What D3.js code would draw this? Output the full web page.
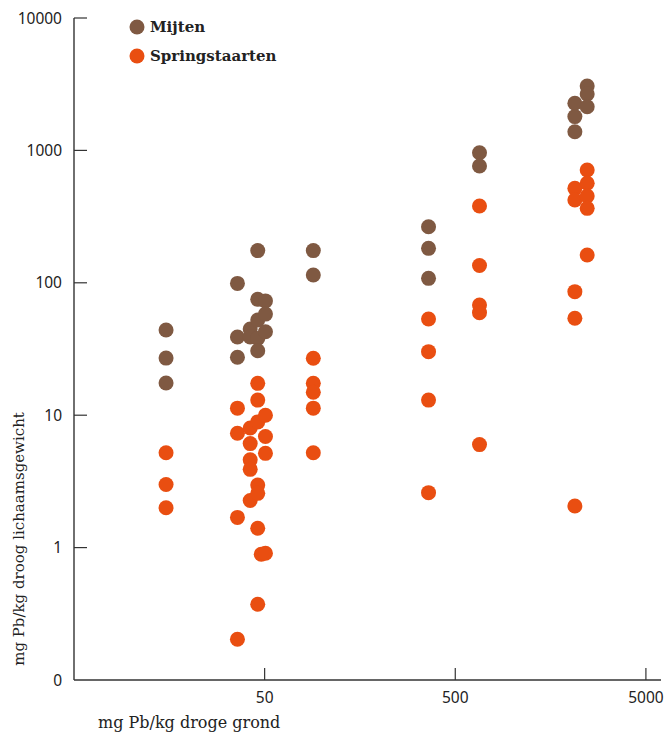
<!DOCTYPE html>
<html>
<head>
<meta charset="utf-8">
<script src="https://cdn.jsdelivr.net/npm/d3@7"></script>
<style>
  body { margin: 0; background: #fff; }
  svg { display: block; }
</style>
</head>
<body>
<div id="chart"></div>
<script>
// Mijten: mg Pb/kg droge grond vs mg Pb/kg droog lichaamsgewicht
var mijtenGrond = [15.2, 15.2, 15.2, 36, 36, 36, 42, 42, 46, 46, 46, 46, 46,
                   50.5, 50.5, 50.5, 90, 90, 362, 362, 362, 670, 670,
                   2120, 2120, 2120, 2460, 2460, 2460];
var mijtenLichaam = [44, 27, 17.5, 99, 39, 27.4, 44.8, 39, 175, 75, 52.4, 38, 30.7,
                     73, 58, 42.7, 175, 114.5, 265, 182, 108, 961, 762,
                     2270, 1800, 1384, 3063, 2667, 2138];

// Springstaarten
var springGrond = [15.2, 15.2, 15.2, 36, 36, 36, 36, 42, 42, 42, 42, 42,
                   46, 46, 46, 46, 46, 46, 46, 48, 50.5, 50.5, 50.5, 50.5,
                   90, 90, 90, 90, 90, 362, 362, 362, 362,
                   670, 670, 670, 670, 670, 2120, 2120, 2120, 2120, 2120,
                   2460, 2460, 2460, 2460, 2460];
var springLichaam = [5.2, 3.0, 2.0, 11.3, 7.3, 1.69, 0.203, 8.0, 6.1, 4.6, 3.9, 2.27,
                     17.4, 13.0, 8.9, 2.97, 2.57, 1.40, 0.373, 0.89, 10.0, 6.9, 5.15, 0.906,
                     26.9, 17.4, 14.9, 11.3, 5.2, 53.3, 30.2, 13.0, 2.6,
                     380, 135, 68, 59.5, 6.0, 517, 422, 85.7, 54, 2.06,
                     711, 565, 453, 365, 162];

var xTicks = [50, 500, 5000];
var yTicks = [0.1, 1, 10, 100, 1000, 10000];
var yTickLabels = ["0", "1", "10", "100", "1000", "10000"];

var seriesNames = ["Mijten", "Springstaarten"];
var colours = ["#7f5942", "#e94e11"];

var width = 664, height = 735;
var plotLeft = 74, plotRight = 661, plotTop = 18, plotBottom = 680;
var rDot = 7.5;

var svg = d3.select("#chart").append("svg")
    .attr("width", width)
    .attr("height", height);

var x = d3.scaleLog().domain([5, 6000]).range([plotLeft, plotRight]);
var y = d3.scaleLog().domain([0.1, 10000]).range([plotBottom, plotTop]);

//Axes
var axisColour = "#333";

svg.append("line")
    .attr("x1", plotLeft).attr("x2", plotLeft)
    .attr("y1", plotTop).attr("y2", plotBottom)
    .attr("stroke", axisColour).attr("stroke-width", 1.4);

svg.append("line")
    .attr("x1", plotLeft).attr("x2", plotRight)
    .attr("y1", plotBottom).attr("y2", plotBottom)
    .attr("stroke", axisColour).attr("stroke-width", 1.4);

//y ticks point into the plot
svg.selectAll(".ytick").data(yTicks.slice(1)).enter().append("line")
    .attr("x1", plotLeft).attr("x2", plotLeft + 13)
    .attr("y1", function(d) { return y(d); })
    .attr("y2", function(d) { return y(d); })
    .attr("stroke", axisColour).attr("stroke-width", 1.2);

svg.selectAll(".ylab").data(yTicks).enter().append("text")
    .attr("x", plotLeft - 12)
    .attr("y", function(d) { return y(d) + 5.5; })
    .attr("text-anchor", "end")
    .attr("font-family", "Noto Sans, sans-serif")
    .attr("font-size", 15.5)
    .attr("fill", "#222")
    .text(function(d, i) { return yTickLabels[i]; });

//x ticks point up
svg.selectAll(".xtick").data(xTicks).enter().append("line")
    .attr("x1", function(d) { return x(d); })
    .attr("x2", function(d) { return x(d); })
    .attr("y1", plotBottom).attr("y2", plotBottom - 12)
    .attr("stroke", axisColour).attr("stroke-width", 1.2);

svg.selectAll(".xlab").data(xTicks).enter().append("text")
    .attr("x", function(d) { return x(d); })
    .attr("y", plotBottom + 23)
    .attr("text-anchor", "middle")
    .attr("font-family", "Noto Sans, sans-serif")
    .attr("font-size", 15.5)
    .attr("fill", "#222")
    .text(function(d) { return d; });

//Axis titles
svg.append("text")
    .attr("x", 98).attr("y", 728)
    .attr("font-family", "DejaVu Serif, serif")
    .attr("font-size", 16)
    .attr("fill", "#222")
    .text("mg Pb/kg droge grond");

svg.append("text")
    .attr("transform", "translate(24,539) rotate(-90)")
    .attr("text-anchor", "middle")
    .attr("font-family", "DejaVu Serif, serif")
    .attr("font-size", 15)
    .attr("fill", "#222")
    .text("mg Pb/kg droog lichaamsgewicht");

//Points
var mijten = mijtenGrond.map(function(g, i) { return [g, mijtenLichaam[i]]; });
var spring = springGrond.map(function(g, i) { return [g, springLichaam[i]]; });

[mijten, spring].forEach(function(pts, s) {
    svg.append("g").selectAll("circle").data(pts).enter().append("circle")
        .attr("cx", function(d) { return x(d[0]); })
        .attr("cy", function(d) { return y(d[1]); })
        .attr("r", rDot)
        .attr("fill", colours[s]);
});

//Legend
var legend = svg.append("g");
seriesNames.forEach(function(name, i) {
    legend.append("circle")
        .attr("cx", 137).attr("cy", 27 + i * 29)
        .attr("r", rDot)
        .attr("fill", colours[i]);
    legend.append("text")
        .attr("x", 150).attr("y", 32 + i * 29)
        .attr("font-family", "DejaVu Serif, serif")
        .attr("font-weight", "bold")
        .attr("font-size", 15)
        .attr("fill", "#222")
        .text(name);
});
</script>
</body>
</html>
